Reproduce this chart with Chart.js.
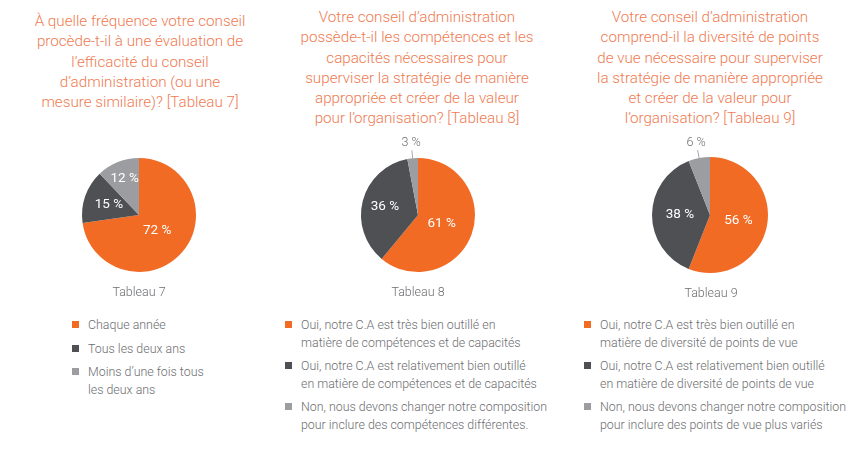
<!DOCTYPE html>
<html>
<head>
<meta charset="utf-8">
<script src="https://cdn.jsdelivr.net/npm/chart.js@4.4.1/dist/chart.umd.min.js"></script>
<style>
  body { margin:0; background:#fff; width:865px; height:451px; position:relative; overflow:hidden; font-family: Roboto, "Noto Sans", sans-serif; }
  .title { position:absolute; width:290px; text-align:center; color:#ef7b52; font-size:15.2px; font-weight:300; line-height:20.3px; white-space:nowrap; }
  .pie { position:absolute; }
  .cap { position:absolute; width:120px; text-align:center; color:#6d6e71; font-size:12.5px; font-weight:300; line-height:16px; }
  .legend { position:absolute; color:#6d6e71; font-size:12.4px; font-weight:300; line-height:17.5px; white-space:nowrap; }
  .item { position:relative; margin-bottom:6px; }
  .sw { position:absolute; left:-16px; top:5px; width:7px; height:7px; }
</style>
</head>
<body>
<div class="title" id="t7" style="left:-5px; top:11px"></div>
<div class="title" id="t8" style="left:272px; top:7px"></div>
<div class="title" id="t9" style="left:565px; top:7px"></div>

<canvas class="pie" id="pie7" width="200" height="160" style="left:39px; top:135px"></canvas>
<canvas class="pie" id="pie8" width="200" height="160" style="left:318px; top:135px"></canvas>
<canvas class="pie" id="pie9" width="200" height="160" style="left:610px; top:135px"></canvas>

<div class="cap" id="c7" style="left:79px; top:284px"></div>
<div class="cap" id="c8" style="left:358px; top:284px"></div>
<div class="cap" id="c9" style="left:651px; top:285px"></div>

<div class="legend" id="l7" style="left:88px; top:316px"></div>
<div class="legend" id="l8" style="left:301px; top:316px"></div>
<div class="legend" id="l9" style="left:600px; top:316px"></div>

<script>
// ---- data ----
const colors = ["#f26b24", "#4f5054", "#9c9da1"];

const title7 = ["À quelle fréquence votre conseil", "procède-t-il à une évaluation de", "l’efficacité du conseil", "d’administration (ou une", "mesure similaire)? [Tableau 7]"];
const title8 = ["Votre conseil d’administration", "possède-t-il les compétences et les", "capacités nécessaires pour", "superviser la stratégie de manière", "appropriée et créer de la valeur", "pour l’organisation? [Tableau 8]"];
const title9 = ["Votre conseil d’administration", "comprend-il la diversité de points", "de vue nécessaire pour superviser", "la stratégie de manière appropriée", "et créer de la valeur pour", "l’organisation? [Tableau 9]"];

const labels7 = [["Chaque année"], ["Tous les deux ans"], ["Moins d’une fois tous", "les deux ans"]];
const labels8 = [
  ["Oui, notre C.A est très bien outillé en", "matière de compétences et de capacités"],
  ["Oui, notre C.A est relativement bien outillé", "en matière de compétences et de capacités"],
  ["Non, nous devons changer notre composition", "pour inclure des compétences différentes."]
];
const labels9 = [
  ["Oui, notre C.A est très bien outillé en", "matière de diversité de points de vue"],
  ["Oui, notre C.A est relativement bien outillé", "en matière de diversité de points de vue"],
  ["Non, nous devons changer notre composition", "pour inclure des points de vue plus variés"]
];

const values7 = [72, 15, 12];
const values8 = [61, 36, 3];
const values9 = [56, 38, 6];

// ---- slice labels ----
const sliceLabels = {
  id: "sliceLabels",
  afterDatasetsDraw(chart, args, opts) {
    const ctx = chart.ctx;
    const meta = chart.getDatasetMeta(0);
    const vals = chart.data.datasets[0].data;
    meta.data.forEach((arc, i) => {
      const p = arc.getProps(["x", "y", "startAngle", "endAngle", "outerRadius"], true);
      const mid = (p.startAngle + p.endAngle) / 2;
      const dx = Math.cos(mid), dy = Math.sin(mid);
      const r = p.outerRadius;
      const txt = vals[i] + " %";
      ctx.save();
      ctx.textAlign = "center";
      ctx.textBaseline = "middle";
      if (vals[i] < 8) {
        ctx.strokeStyle = "#a6a7aa";
        ctx.lineWidth = 1;
        ctx.beginPath();
        ctx.moveTo(p.x + dx * r * 1.0, p.y + dy * r * 1.0);
        ctx.lineTo(p.x + dx * r * 1.14, p.y + dy * r * 1.14);
        ctx.stroke();
        ctx.fillStyle = "#6d6e71";
        ctx.font = "300 12.5px Roboto";
        ctx.fillText(txt, p.x + dx * r * 1.27, p.y + dy * r * 1.27);
      } else {
        const f = opts.radius[i];
        ctx.fillStyle = "#ffffff";
        ctx.font = "13.5px Roboto";
        ctx.fillText(txt, p.x + dx * r * f, p.y + dy * r * f);
      }
      ctx.restore();
    });
  }
};

function renderPie(id, values, labels, pad, radius) {
  return new Chart(document.getElementById(id), {
    type: "pie",
    data: {
      labels: labels.map(l => l.join(" ")),
      datasets: [{ data: values, backgroundColor: colors, borderWidth: 0 }]
    },
    options: {
      responsive: false,
      animation: false,
      layout: { padding: { top: pad, bottom: pad } },
      plugins: {
        legend: { display: false },
        tooltip: { enabled: false },
        sliceLabels: { radius }
      }
    },
    plugins: [sliceLabels]
  });
}

function fillTitle(id, lines) {
  document.getElementById(id).innerHTML = lines.join("<br>");
}

function fillLegend(id, labels) {
  const el = document.getElementById(id);
  el.innerHTML = labels.map((l, i) =>
    `<div class="item"><span class="sw" style="background:${colors[i]}"></span>${l.join("<br>")}</div>`
  ).join("");
}

fillTitle("t7", title7);
fillTitle("t8", title8);
fillTitle("t9", title9);

renderPie("pie7", values7, labels7, 23, [0.42, 0.56, 0.68]);
renderPie("pie8", values8, labels8, 23, [0.44, 0.6, 0.6]);
renderPie("pie9", values9, labels9, 22, [0.5, 0.52, 0.6]);

document.getElementById("c7").textContent = "Tableau 7";
document.getElementById("c8").textContent = "Tableau 8";
document.getElementById("c9").textContent = "Tableau 9";

fillLegend("l7", labels7);
fillLegend("l8", labels8);
fillLegend("l9", labels9);
</script>
</body>
</html>
